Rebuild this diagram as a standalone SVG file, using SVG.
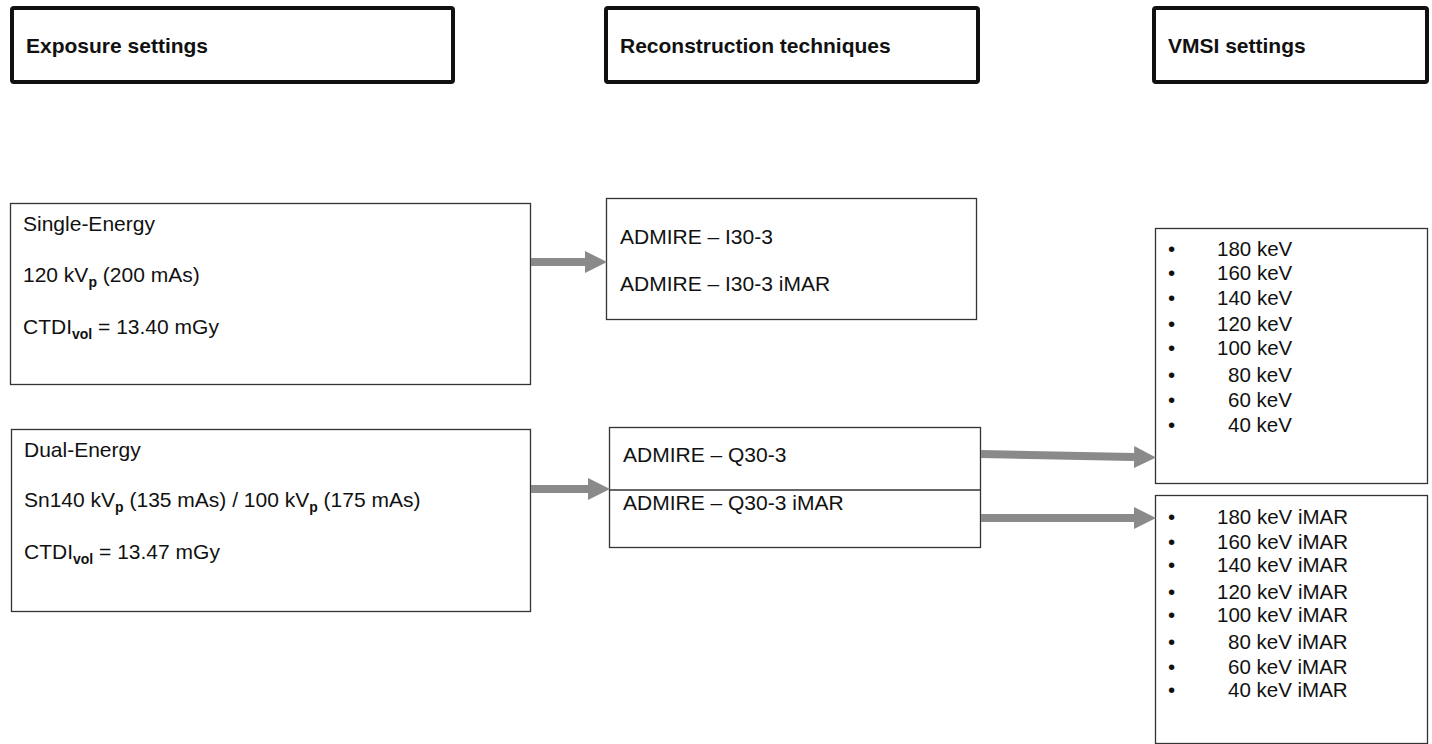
<svg xmlns="http://www.w3.org/2000/svg" width="1432" height="744" viewBox="0 0 1432 744">
<style>
.hdr{fill:#fff;stroke:#111;stroke-width:4}
.box{fill:#fff;stroke:#333;stroke-width:1.3}
.ht{font-family:"Liberation Sans",Arial,sans-serif;font-weight:bold;font-size:21px;fill:#111}
.t{font-family:"Liberation Sans",Arial,sans-serif;font-size:21px;fill:#111}
.l{font-family:"Liberation Sans",Arial,sans-serif;font-size:20.5px;fill:#111}
.sub{font-size:14px;font-weight:bold}
.arr{stroke:#8a8a8a;stroke-width:8;fill:none}
</style>
<defs>
<marker id="ah" markerUnits="userSpaceOnUse" markerWidth="22" markerHeight="22" refX="0" refY="11" orient="auto">
<path d="M0,0 L22,11 L0,22 z" fill="#8a8a8a"/>
</marker>
</defs>
<g id="h1"><rect class="hdr" x="12" y="8" width="441" height="74" rx="2"/><text class="ht" x="26" y="53">Exposure settings</text></g>
<g id="h2"><rect class="hdr" x="606" y="8" width="372" height="74" rx="2"/><text class="ht" x="620" y="53">Reconstruction techniques</text></g>
<g id="h3"><rect class="hdr" x="1154" y="8" width="273" height="74" rx="2"/><text class="ht" x="1168" y="53">VMSI settings</text></g>

<g id="single"><rect class="box" x="10.5" y="203.5" width="520" height="181"/>
<text class="t" x="23" y="231">Single-Energy</text>
<text class="t" x="23" y="282">120 kV<tspan class="sub" dy="5">p</tspan><tspan dy="-5"> (200 mAs)</tspan></text>
<text class="t" x="23" y="334">CTDI<tspan class="sub" dy="5">vol</tspan><tspan dy="-5"> = 13.40 mGy</tspan></text>
</g>
<g id="dual"><rect class="box" x="11.5" y="429.5" width="519" height="182"/>
<text class="t" x="24" y="457">Dual-Energy</text>
<text class="t" x="24" y="507">Sn140 kV<tspan class="sub" dy="5">p</tspan><tspan dy="-5"> (135 mAs) / 100 kV</tspan><tspan class="sub" dy="5">p</tspan><tspan dy="-5"> (175 mAs)</tspan></text>
<text class="t" x="24" y="559">CTDI<tspan class="sub" dy="5">vol</tspan><tspan dy="-5"> = 13.47 mGy</tspan></text>
</g>
<g id="recon1"><rect class="box" x="606.5" y="198.5" width="370" height="121"/>
<text class="t" x="620" y="244">ADMIRE – I30-3</text>
<text class="t" x="620" y="291">ADMIRE – I30-3 iMAR</text>
</g>
<g id="recon2"><rect class="box" x="609.5" y="427.5" width="371" height="120"/>
<line x1="609.5" y1="490" x2="980.5" y2="490" stroke="#333" stroke-width="1.3"/>
<text class="t" x="623" y="462">ADMIRE – Q30-3</text>
<text class="t" x="623" y="510">ADMIRE – Q30-3 iMAR</text>
</g>
<g id="vmsi1"><rect class="box" x="1155.5" y="228.5" width="272" height="255"/>
<g class="l">
<text x="1168" y="256">•</text><text x="1217" y="256">180 keV</text>
<text x="1168" y="280">•</text><text x="1217" y="280">160 keV</text>
<text x="1168" y="305">•</text><text x="1217" y="305">140 keV</text>
<text x="1168" y="331">•</text><text x="1217" y="331">120 keV</text>
<text x="1168" y="355">•</text><text x="1217" y="355">100 keV</text>
<text x="1168" y="382">•</text><text x="1228" y="382">80 keV</text>
<text x="1168" y="407">•</text><text x="1228" y="407">60 keV</text>
<text x="1168" y="432">•</text><text x="1228" y="432">40 keV</text>
</g></g>
<g id="vmsi2"><rect class="box" x="1155.5" y="495.5" width="272" height="248"/>
<g class="l">
<text x="1168" y="524">•</text><text x="1217" y="524">180 keV iMAR</text>
<text x="1168" y="549">•</text><text x="1217" y="549">160 keV iMAR</text>
<text x="1168" y="572">•</text><text x="1217" y="572">140 keV iMAR</text>
<text x="1168" y="599">•</text><text x="1217" y="599">120 keV iMAR</text>
<text x="1168" y="622">•</text><text x="1217" y="622">100 keV iMAR</text>
<text x="1168" y="649">•</text><text x="1228" y="649">80 keV iMAR</text>
<text x="1168" y="674">•</text><text x="1228" y="674">60 keV iMAR</text>
<text x="1168" y="697">•</text><text x="1228" y="697">40 keV iMAR</text>
</g></g>

<g id="connectors">
<line class="arr" x1="531" y1="262" x2="585" y2="262" marker-end="url(#ah)"/>
<line class="arr" x1="531" y1="489" x2="588" y2="489" marker-end="url(#ah)"/>
<line class="arr" x1="981" y1="454" x2="1134" y2="457" marker-end="url(#ah)"/>
<line class="arr" x1="981" y1="518" x2="1134" y2="518" marker-end="url(#ah)"/>
</g>
</svg>
